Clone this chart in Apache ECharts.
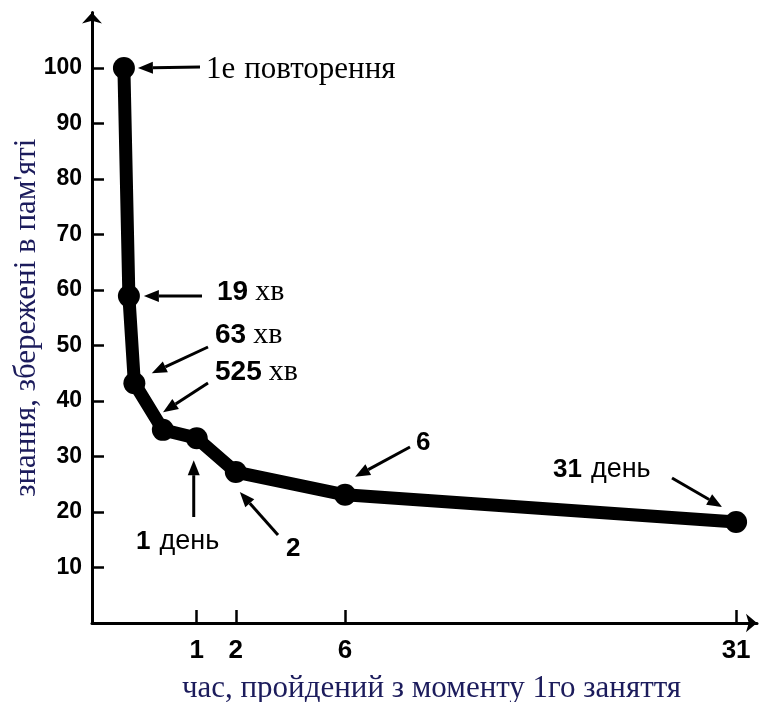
<!DOCTYPE html>
<html lang="uk">
<head>
<meta charset="UTF-8">
<title>Крива забування</title>
<script src="https://cdn.jsdelivr.net/npm/echarts@6/dist/echarts.min.js"></script>
<style>
  html, body { margin: 0; padding: 0; background: #fff; }
</style>
</head>
<body>
<div id="main" style="width: 760px;height: 702px"></div>
<script>
// час від першого заняття (хв) та частка збережених знань (%)
const minutes = [0, 19, 63, 525, 1440, 2880, 8640, 44640];
const retained = [100, 58.9, 43.2, 34.8, 33.3, 27.2, 23.1, 18.2];
const dayTicks = [1, 2, 6, 31];
const yTicks = [10, 20, 30, 40, 50, 60, 70, 80, 90, 100];

// шкала осі x у вихідному малюнку нелінійна, приблизно t^0.62
const P = 0.62;
function u(m) { return Math.pow(m, P); }

const NAVY = '#1c1c5c';
const SERIF = '"Liberation Serif", "DejaVu Serif", serif';
const SANS = '"Liberation Sans", Arial, sans-serif';

let mycharts = echarts.init(document.getElementById('main'));

let tickPos = dayTicks.map(function (d) { return u(d * 1440); });

mycharts.setOption({
  animation: false,
  grid: { left: 92, right: 3, top: 12.5, bottom: 79, outerBoundsMode: 'none' },
  xAxis: {
    type: 'value',
    min: -39.8,
    max: 789.6,
    name: 'час, пройдений з моменту 1го заняття',
    nameLocation: 'middle',
    nameGap: 50,
    nameMoveOverlap: false,
    nameTextStyle: { fontFamily: SERIF, fontSize: 31, color: NAVY, padding: [0, 0, 0, 14] },
    axisLine: {
      onZero: false,
      symbol: ['none', 'arrow'],
      symbolSize: [14, 11],
      lineStyle: { color: '#000', width: 3 }
    },
    axisTick: {
      inside: true, length: 13,
      customValues: tickPos,
      lineStyle: { color: '#000', width: 2.5 }
    },
    axisLabel: {
      customValues: tickPos,
      margin: 15,
      fontFamily: SANS, fontWeight: 'bold', fontSize: 26, color: '#000',
      formatter: function (v) {
        let best = 0;
        for (let i = 1; i < tickPos.length; i++) {
          if (Math.abs(tickPos[i] - v) < Math.abs(tickPos[best] - v)) best = i;
        }
        return String(dayTicks[best]);
      }
    },
    splitLine: { show: false }
  },
  yAxis: {
    type: 'value',
    min: 0,
    max: 110,
    interval: 10,
    name: 'знання, збережені в пам\'яті',
    nameLocation: 'middle',
    nameGap: 50,
    nameMoveOverlap: false,
    nameTextStyle: { fontFamily: SERIF, fontSize: 31, color: NAVY },
    axisLine: {
      show: true,
      onZero: false,
      symbol: ['none', 'arrow'],
      symbolSize: [15, 11],
      lineStyle: { color: '#000', width: 3 }
    },
    axisTick: {
      inside: true, length: 12,
      customValues: yTicks,
      lineStyle: { color: '#000', width: 2.5 }
    },
    axisLabel: {
      customValues: yTicks,
      margin: 10,
      fontFamily: SANS, fontWeight: 'bold', fontSize: 23, color: '#000'
    },
    splitLine: { show: false }
  },
  series: [{
    type: 'line',
    data: minutes.map(function (m, i) { return [u(m), retained[i]]; }),
    symbol: 'circle',
    symbolSize: 22,
    itemStyle: { color: '#000' },
    lineStyle: { color: '#000', width: 13, cap: 'round', join: 'round' },
    z: 5
  }]
});

// підписи зі стрілками
function arrow(tip, tail) {
  let dx = tip[0] - tail[0], dy = tip[1] - tail[1];
  let len = Math.sqrt(dx * dx + dy * dy);
  let ux = dx / len, uy = dy / len;
  let L = 15, W = 6;
  let bx = tip[0] - ux * L, by = tip[1] - uy * L;
  return [
    { type: 'line', shape: { x1: tail[0], y1: tail[1], x2: bx, y2: by },
      style: { stroke: '#000', lineWidth: 3 }, z: 10 },
    { type: 'polygon', shape: { points: [tip, [bx - uy * W, by + ux * W], [bx + uy * W, by - ux * W]] },
      style: { fill: '#000' }, z: 10 }
  ];
}

function px(i) {
  return mycharts.convertToPixel({ seriesIndex: 0 }, [u(minutes[i]), retained[i]]);
}

// f: точка на відрізку (i-1 -> i), від якої відкладається вістря
let notes = [
  { i: 0, f: 1, off: [14, 0], tail: [200, 67] },
  { i: 1, f: 1, off: [15, 0], tail: [202, 296] },
  { i: 2, f: 0.885, off: [18, 0], tail: [208, 347] },
  { i: 3, f: 0.62, off: [11, 0], tail: [208, 383] },
  { i: 4, f: 1, off: [-3, 22], tail: [null, 517] },
  { i: 5, f: 1, off: [4, 20], tail: [278, 535] },
  { i: 6, f: 1, off: [10, -18], tail: [410, 447] },
  { i: 7, f: 1, off: [-14, -15], tail: [672, 478] }
];

let els = [];
notes.forEach(function (n) {
  let p = px(n.i);
  if (n.f < 1) {
    let q = px(n.i - 1);
    p = [q[0] + (p[0] - q[0]) * n.f, q[1] + (p[1] - q[1]) * n.f];
  }
  let tip = [p[0] + n.off[0], p[1] + n.off[1]];
  let tail = [n.tail[0] === null ? tip[0] : n.tail[0], n.tail[1]];
  els = els.concat(arrow(tip, tail));
});

let numStyle = { fontFamily: SANS, fontWeight: 'bold', fontSize: 28, color: '#000' };
let smallNum = { fontFamily: SANS, fontWeight: 'bold', fontSize: 26, color: '#000' };
let xvStyle = { fontFamily: SERIF, fontSize: 30, color: NAVY, padding: [0, 0, 0, 7] };
let dayStyle = { fontFamily: SANS, fontSize: 27, color: '#000', padding: [0, 0, 0, 9] };

function label(x, y, text, rich) {
  els.push({
    type: 'text', x: x, y: y, z: 10,
    style: { text: text, rich: rich, verticalAlign: 'middle', align: 'left' }
  });
}

label(206, 70, '{a|1е}{b|повторення}', {
  a: { fontFamily: SERIF, fontSize: 31, color: '#000' },
  b: { fontFamily: SERIF, fontSize: 31, color: NAVY, padding: [0, 0, 0, 9] }
});
label(217, 292, '{n|19}{x|хв}', { n: numStyle, x: xvStyle });
label(215, 335, '{n|63}{x|хв}', { n: numStyle, x: xvStyle });
label(215, 372, '{n|525}{x|хв}', { n: numStyle, x: xvStyle });
label(136, 542, '{n|1}{d|день}', { n: smallNum, d: dayStyle });
label(286, 549, '{n|2}', { n: smallNum });
label(416, 443, '{n|6}', { n: smallNum });
label(553, 470, '{n|31}{d|день}', { n: smallNum, d: dayStyle });

mycharts.setOption({ graphic: els });
</script>
</body>
</html>
